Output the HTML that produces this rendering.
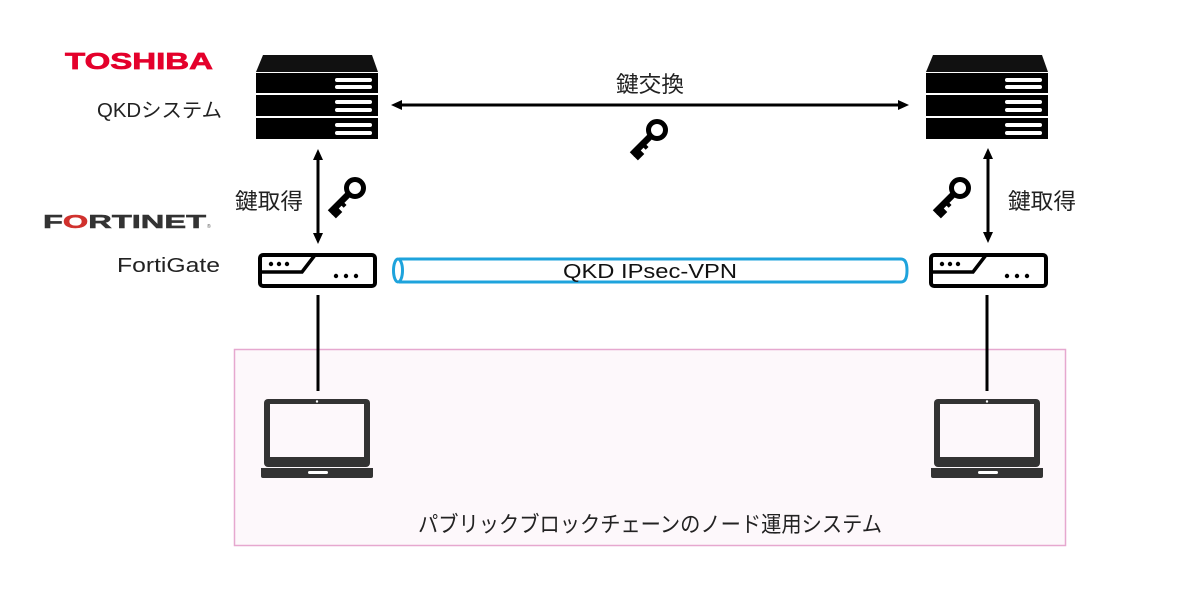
<!DOCTYPE html>
<html><head><meta charset="utf-8">
<style>
html,body{margin:0;padding:0;background:#fff;}
svg{display:block;}
text{font-family:"Liberation Sans","Noto Sans CJK JP",sans-serif;}
</style></head>
<body>
<svg width="1200" height="589" viewBox="0 0 1200 589" xmlns="http://www.w3.org/2000/svg">
<defs>
  <g id="server">
    <path d="M7,1 L116,1 L122,18 L0,18 Z" fill="#111"/>
    <rect x="0" y="19" width="122" height="20" fill="#000"/>
    <rect x="0" y="41" width="122" height="21" fill="#000"/>
    <rect x="0" y="64" width="122" height="21" fill="#000"/>
    <rect x="79" y="24" width="37" height="4" rx="2" fill="#fff"/>
    <rect x="79" y="31" width="37" height="4" rx="2" fill="#fff"/>
    <rect x="79" y="46" width="37" height="4" rx="2" fill="#fff"/>
    <rect x="79" y="54" width="37" height="4" rx="2" fill="#fff"/>
    <rect x="79" y="69" width="37" height="4" rx="2" fill="#fff"/>
    <rect x="79" y="77" width="37" height="4" rx="2" fill="#fff"/>
  </g>
  <g id="fgate">
    <rect x="2" y="2" width="115" height="31" rx="3" fill="#fff" stroke="#000" stroke-width="4"/>
    <path d="M2,19 L44,19 L57,2" fill="none" stroke="#000" stroke-width="3.5"/>
    <circle cx="13" cy="11" r="2.2" fill="#000"/>
    <circle cx="21" cy="11" r="2.2" fill="#000"/>
    <circle cx="29" cy="11" r="2.2" fill="#000"/>
    <circle cx="78" cy="23" r="2.2" fill="#000"/>
    <circle cx="88" cy="23" r="2.2" fill="#000"/>
    <circle cx="98" cy="23" r="2.2" fill="#000"/>
  </g>
  <g id="key">
    <circle cx="0" cy="0" r="8.5" fill="none" stroke="#000" stroke-width="5"/>
    <g transform="rotate(135)">
      <rect x="9" y="-3" width="26" height="6.5" fill="#000"/>
      <rect x="26" y="-8" width="9" height="6" fill="#000"/>
      <rect x="18" y="-6" width="4" height="4" fill="#000"/>
    </g>
  </g>
  <g id="laptop">
    <rect x="0" y="0" width="106" height="68" rx="4" fill="#333"/>
    <rect x="6" y="5" width="94" height="53" fill="#fdf8fb"/>
    <circle cx="53" cy="2.5" r="1.2" fill="#fff"/>
    <path d="M-3,69 L109,69 L109,77 Q109,79 107,79 L-1,79 Q-3,79 -3,77 Z" fill="#333"/>
    <rect x="44" y="72" width="20" height="3" rx="1.5" fill="#fff"/>
  </g>
</defs>

<!-- pink area -->
<rect x="234.5" y="349.5" width="831" height="196" fill="#fdf8fb" stroke="#e6a8cf" stroke-width="1.5"/>

<!-- servers -->
<use href="#server" x="256" y="54"/>
<use href="#server" x="926" y="54"/>

<!-- horizontal arrow -->
<line x1="400" y1="105" x2="900" y2="105" stroke="#000" stroke-width="3"/>
<path d="M391,105 L402,100 L402,110 Z" fill="#000"/>
<path d="M909,105 L898,100 L898,110 Z" fill="#000"/>

<!-- vertical arrows -->
<line x1="318" y1="158" x2="318" y2="236" stroke="#000" stroke-width="3"/>
<path d="M318,149 L313,160 L323,160 Z" fill="#000"/>
<path d="M318,244 L313,233 L323,233 Z" fill="#000"/>
<line x1="988" y1="157" x2="988" y2="235" stroke="#000" stroke-width="3"/>
<path d="M988,148 L983,159 L993,159 Z" fill="#000"/>
<path d="M988,243 L983,232 L993,232 Z" fill="#000"/>

<!-- keys -->
<use href="#key" x="657" y="130"/>
<use href="#key" x="355" y="188"/>
<use href="#key" x="960" y="188"/>

<!-- fortigates -->
<use href="#fgate" x="258" y="253"/>
<use href="#fgate" x="929" y="253"/>

<!-- tube -->
<path d="M399,259 L901,259 Q907,259 907,270.5 Q907,282 901,282 L399,282" fill="#fff" stroke="#1ea3dc" stroke-width="3"/>
<ellipse cx="398" cy="270.5" rx="4.5" ry="11.5" fill="#fff" stroke="#1ea3dc" stroke-width="3"/>

<!-- connector lines -->
<line x1="318" y1="295" x2="318" y2="391" stroke="#000" stroke-width="3"/>
<line x1="987" y1="295" x2="987" y2="391" stroke="#000" stroke-width="3"/>

<!-- laptops -->
<use href="#laptop" x="264" y="399"/>
<use href="#laptop" x="934" y="399"/>

<!-- texts -->
<text x="65" y="69" font-size="23" font-weight="bold" fill="#e4002b" stroke="#e4002b" stroke-width="0.7" textLength="148" lengthAdjust="spacingAndGlyphs">TOSHIBA</text>
<text x="97" y="117" font-size="20" fill="#222" textLength="125" lengthAdjust="spacingAndGlyphs">QKDシステム</text>
<text x="43" y="228" font-size="18" font-weight="bold" fill="#333" stroke="#333" stroke-width="0.5" textLength="163" lengthAdjust="spacingAndGlyphs">F<tspan fill="#d0312d" stroke="#d0312d">O</tspan>RTINET</text>
<text x="207" y="228" font-size="5" fill="#555">®</text>
<text x="117" y="272" font-size="20" fill="#222" textLength="103" lengthAdjust="spacingAndGlyphs">FortiGate</text>
<text x="235" y="209" font-size="22" fill="#222" textLength="68" lengthAdjust="spacingAndGlyphs">鍵取得</text>
<text x="1008" y="209" font-size="22" fill="#222" textLength="68" lengthAdjust="spacingAndGlyphs">鍵取得</text>
<text x="616" y="92" font-size="22" fill="#222" textLength="68" lengthAdjust="spacingAndGlyphs">鍵交換</text>
<text x="563" y="278" font-size="20" fill="#111" textLength="174" lengthAdjust="spacingAndGlyphs">QKD IPsec-VPN</text>
<text x="418" y="532" font-size="22" fill="#222" textLength="464" lengthAdjust="spacingAndGlyphs">パブリックブロックチェーンのノード運用システム</text>
</svg>
</body></html>
